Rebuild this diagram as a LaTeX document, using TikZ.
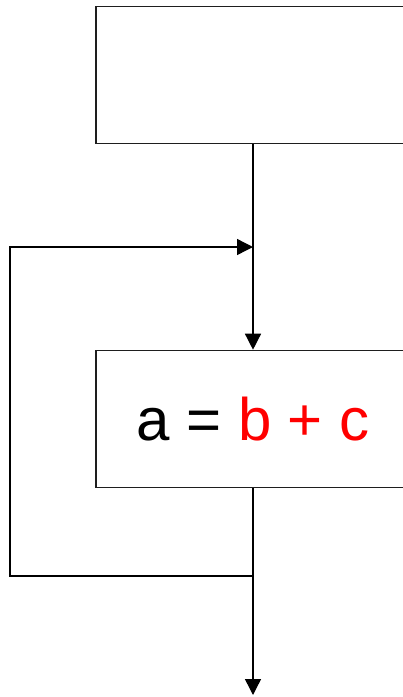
\documentclass[tikz,border=0pt]{standalone}
\usepackage{fontspec}
\setmainfont{Liberation Sans}
\usetikzlibrary{arrows.meta,positioning}
\definecolor{exprred}{RGB}{255,0,0}
\definecolor{framegray}{RGB}{30,30,30}

\begin{document}
\begin{tikzpicture}[x=1pt, y=-1pt,
    every node/.style={font=\fontsize{60}{72}\selectfont},
    block/.style={draw=framegray, line width=1.6pt, minimum width=314pt, minimum height=137pt, inner sep=0pt},
    flow/.style={line width=1.4pt, -{Triangle[length=16pt,width=16pt]}}]
      \useasboundingbox (0,0) rectangle (403,697);
      \clip (0,0) rectangle (403,697);
      \fill[white] (0,0) rectangle (403,697);
      \node[block] (init) at (253,75) {};
      \node[block] (stmt) at (253,419) {a = {\color{exprred}b + c}};
      \coordinate (join) at (253,247);
      \coordinate (split) at (253,576);
      \coordinate (back) at (10,576);
      \coordinate (exit) at (253,695);
      % loop back edge
      \draw[flow] (init.south) -- (stmt.north);
      \draw[flow] (split) -- (back) |- (join);
      \draw[flow] (stmt.south) -- (exit);
    \end{tikzpicture}
\end{document}
